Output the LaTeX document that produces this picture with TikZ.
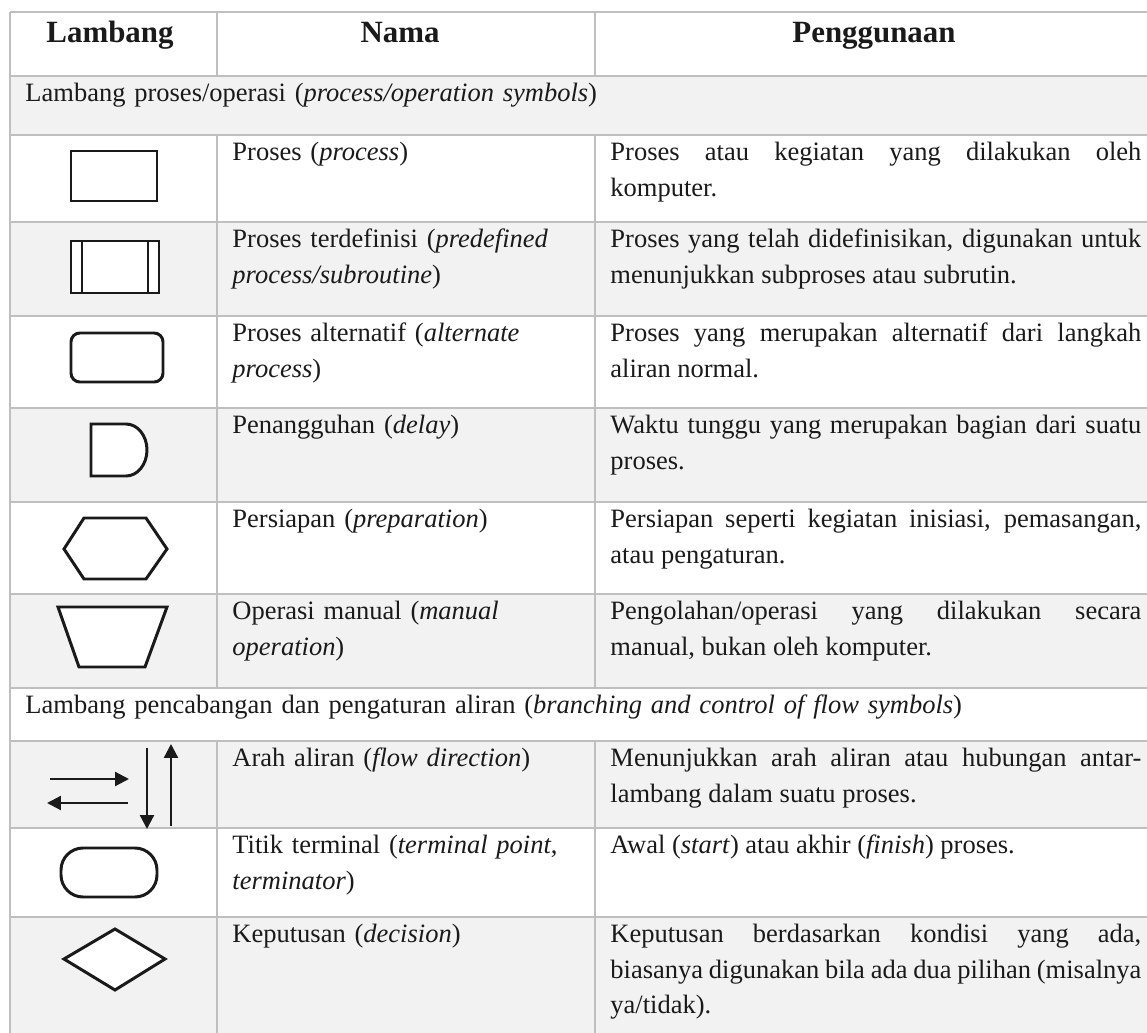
\documentclass[tikz,border=0pt]{standalone}
\usepackage{fontspec}
\setmainfont{Liberation Serif}
\usetikzlibrary{arrows.meta}
\definecolor{gridgray}{HTML}{BFBFBF}
\definecolor{rowgray}{HTML}{F2F2F2}
\definecolor{ink}{HTML}{1A1A1A}
\tolerance=9999
\hbadness=10000
\hyphenpenalty=10000
\begin{document}
\begin{tikzpicture}[x=0.4528pt,y=-0.4528pt,
  grid/.style={gridgray,line width=0.9pt},
  sym/.style={ink,line width=1.35pt,fill=white},
  flowarrow/.style={ink,line width=1.05pt,-{Triangle[length=6.3pt,width=6.3pt]}},
  headtext/.style={anchor=base,inner sep=0pt,text=ink,font=\fontsize{14}{16}\selectfont\bfseries},
  celltext/.style={anchor=north west,inner sep=0pt,text=ink,font=\fontsize{12}{16}\selectfont},
  nametext/.style={celltext,text width=160pt,align=left},
  usetext/.style={celltext,text width=240.4pt,align=justify}]
\useasboundingbox (0,0) rectangle (1147,1033);
\clip (0,0) rectangle (1147,1033);
\fill[white] (0,0) rectangle (1147,1033);
% shaded rows
\foreach \t/\b in {76/135,222/316,408/502,594/688,741/828,917/1040}
  \fill[rowgray] (10,\t) rectangle (1152,\b);
% table rules
\foreach \y in {12,76,135,222,316,408,502,594,688,741,828,917}
  \draw[grid] (10,\y) -- (1152,\y);
\draw[grid] (10,12) -- (10,1040);
\draw[grid] (1152,12) -- (1152,1040);
\foreach \x in {217,595} {
  \draw[grid] (\x,12) -- (\x,76);
  \draw[grid] (\x,135) -- (\x,688);
  \draw[grid] (\x,741) -- (\x,1040);
}
% header
\node[headtext] (hLambang) at (110,42) {Lambang};
\node[headtext] (hNama) at (400,42) {Nama};
\node[headtext] (hGuna) at (874,42) {Penggunaan};
% symbols
\draw[sym] (71,151) rectangle (157,201);
\draw[sym] (71,241) rectangle (159,293) (82,241) -- (82,293) (148,241) -- (148,293);
\draw[sym,rounded corners=4pt] (71,333) rectangle (163,382);
\draw[sym] (91,424) -- (126,424) arc[start angle=-90,end angle=90,x radius=21,y radius=26] -- (91,476) -- cycle;
\draw[sym] (64,549) -- (84,518) -- (146,518) -- (167,549) -- (146,579) -- (84,579) -- cycle;
\draw[sym] (58,607) -- (167,607) -- (145,667) -- (79,667) -- cycle;
\draw[flowarrow] (50,779) -- (129,779);
\draw[flowarrow] (128,803) -- (47,803);
\draw[flowarrow] (147,748) -- (147,829);
\draw[flowarrow] (171,826) -- (171,744);
\draw[sym,rounded corners=10pt] (61,848) rectangle (157,897);
\draw[sym] (64,959) -- (115,929) -- (165,959) -- (115,990) -- cycle;
% section rows
\node[nametext,text width=500pt] (sProses) at (25,76.5) {\strut Lambang proses/operasi (\textit{process/operation symbols})};
\node[nametext,text width=500pt] (sCabang) at (25,688.5) {\strut Lambang pencabangan dan pengaturan aliran (\textit{branching and control of flow symbols})};
% names
\node[nametext] (nProses) at (232,135.5) {\strut Proses (\textit{process})};
\node[nametext] (nTerdef) at (232,222.5) {\strut Proses terdefinisi (\textit{predefined}\\\textit{process/subroutine})};
\node[nametext] (nAlt) at (232,316.5) {\strut Proses alternatif (\textit{alternate}\\\textit{process})};
\node[nametext] (nDelay) at (232,408.5) {\strut Penangguhan (\textit{delay})};
\node[nametext] (nPrep) at (232,502.5) {\strut Persiapan (\textit{preparation})};
\node[nametext] (nManual) at (232,594.5) {\strut Operasi manual (\textit{manual}\\\textit{operation})};
\node[nametext] (nArah) at (232,741.5) {\strut Arah aliran (\textit{flow direction})};
\node[nametext] (nTerm) at (232,828.5) {\strut Titik terminal (\textit{terminal point},\\\textit{terminator})};
\node[nametext] (nKep) at (232,917.5) {\strut Keputusan (\textit{decision})};
% uses
\node[usetext] (gProses) at (610,135.5) {\strut Proses atau kegiatan yang dilakukan oleh\linebreak komputer.};
\node[usetext] (gTerdef) at (610,222.5) {\strut Proses yang telah didefinisikan, digunakan untuk\linebreak menunjukkan subproses atau subrutin.};
\node[usetext] (gAlt) at (610,316.5) {\strut Proses yang merupakan alternatif dari langkah\linebreak aliran normal.};
\node[usetext] (gDelay) at (610,408.5) {\strut Waktu tunggu yang merupakan bagian dari suatu\linebreak proses.};
\node[usetext] (gPrep) at (610,502.5) {\strut Persiapan seperti kegiatan inisiasi, pemasangan,\linebreak atau pengaturan.};
\node[usetext] (gManual) at (610,594.5) {\strut Pengolahan/operasi yang dilakukan secara\linebreak manual, bukan oleh komputer.};
\node[usetext] (gArah) at (610,741.5) {\strut Menunjukkan arah aliran atau hubungan antar-\linebreak lambang dalam suatu proses.};
\node[usetext] (gTerm) at (610,828.5) {\strut Awal (\textit{start}) atau akhir (\textit{finish}) proses.};
\node[usetext] (gKep) at (610,917.5) {\strut Keputusan berdasarkan kondisi yang ada,\linebreak biasanya digunakan bila ada dua pilihan (misalnya\linebreak ya/tidak).};
\end{tikzpicture}
\end{document}
